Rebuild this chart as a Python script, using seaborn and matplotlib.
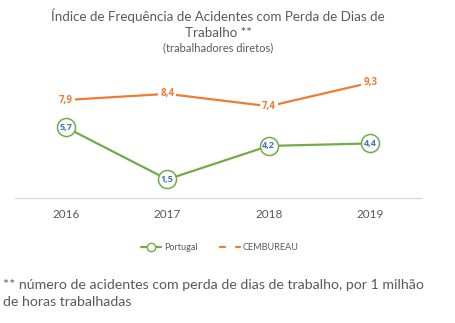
import matplotlib
matplotlib.use("Agg")
import matplotlib.pyplot as plt
from matplotlib.lines import Line2D
import pandas as pd
import seaborn as sns

years = ["2016", "2017", "2018", "2019"]
portugal = [5.7, 1.5, 4.2, 4.4]
cembureau = [7.9, 8.4, 7.4, 9.3]

title_line = "Índice de Frequência de Acidentes com Perda de Dias de\nTrabalho **"
subtitle = "(trabalhadores diretos)"
footnote = "** número de acidentes com perda de dias de trabalho, por 1 milhão\nde horas trabalhadas"

GREEN = "#70AD47"
ORANGE = "#ED7D31"
BLUE = "#4472C4"
GREY = "#595959"

sns.set_style("white")
plt.rcParams["font.family"] = ["Lato", "DejaVu Sans"]
BOLD = ["Open Sans", "DejaVu Sans"]

df = pd.DataFrame({"ano": years, "Portugal": portugal, "CEMBUREAU": cembureau})

fig = plt.figure(figsize=(4.55, 3.23), dpi=100)
ax = fig.add_axes([15 / 455, 1 - 198 / 323, 406 / 455, 124 / 323])

sns.lineplot(data=df, x="ano", y="CEMBUREAU", ax=ax, color=ORANGE, lw=1.6,
             marker="o", markersize=9, markerfacecolor="white",
             markeredgecolor="white", sort=False, zorder=2)
sns.lineplot(data=df, x="ano", y="Portugal", ax=ax, color=GREEN, lw=1.6,
             marker="o", markersize=13, markerfacecolor="white",
             markeredgecolor=GREEN, markeredgewidth=1.1, sort=False, zorder=3)

for i, v in enumerate(cembureau):
    ax.text(i, v, f"{v:.1f}".replace(".", ","), ha="center", va="center",
            fontsize=7, fontweight="bold", family=BOLD, color=ORANGE, zorder=4,
            bbox=dict(boxstyle="square,pad=0.2", fc="white", ec="none"))
for i, v in enumerate(portugal):
    ax.text(i, v, f"{v:.1f}".replace(".", ","), ha="center", va="center",
            fontsize=6.5, fontweight="bold", family=BOLD, color=BLUE, zorder=5)

ax.set_xlim(-0.5, 3.5)
ax.set_ylim(0, 10)
ax.set_xlabel("")
ax.set_ylabel("")
ax.set_yticks([])
ax.tick_params(axis="x", length=0, pad=8, labelsize=8.5, labelcolor=GREY)
for s in ["top", "left", "right"]:
    ax.spines[s].set_visible(False)
ax.spines["bottom"].set_color("#D9D9D9")
ax.spines["bottom"].set_linewidth(1)

fig.text(0.479, 1 - 23.5 / 323, title_line, ha="center", va="center",
         fontsize=9.6, color=GREY, linespacing=1.4)
fig.text(0.479, 1 - 48 / 323, subtitle, ha="center", va="center",
         fontsize=8, color=GREY)

handles = [
    Line2D([], [], color=GREEN, lw=1.6, marker="o", markersize=6,
           markerfacecolor="white", markeredgecolor=GREEN),
    Line2D([], [], color=ORANGE, lw=1.6, marker="s", markersize=6,
           markerfacecolor="white", markeredgecolor="white"),
]
fig.legend(handles, ["Portugal", "CEMBUREAU"], loc="center",
           bbox_to_anchor=(220 / 455, 1 - 248 / 323), ncol=2, frameon=False,
           fontsize=6.5, labelcolor=GREY, handlelength=2.2, columnspacing=2.5,
           handletextpad=0.3)

fig.text(3 / 455, 1 - 293.5 / 323, footnote, ha="left", va="center",
         fontsize=10.2, color=GREY, linespacing=1.5)

fig.savefig("out.png", dpi=100, facecolor="white")
